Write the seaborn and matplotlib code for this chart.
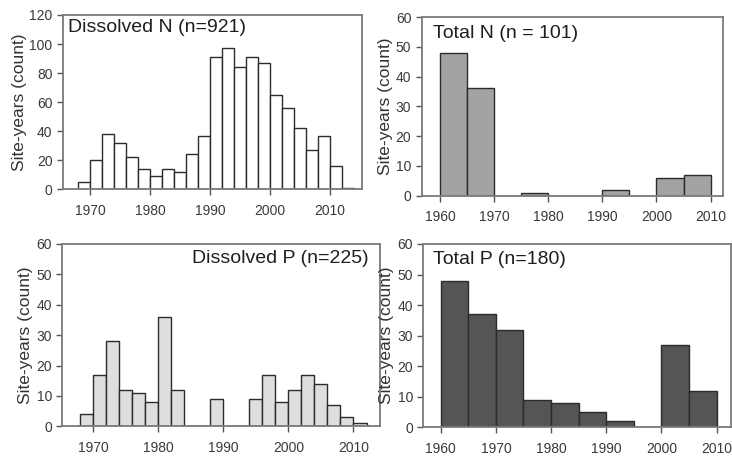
import matplotlib
matplotlib.use("Agg")
import matplotlib.pyplot as plt
import numpy as np
import pandas as pd
import seaborn as sns

# Site-year counts per time bin for each constituent
diss_n_start = 1968
diss_n_width = 2
diss_n_counts = [5, 20, 38, 32, 22, 14, 9, 14, 12, 24, 37, 91, 97, 84, 91, 87,
                 65, 56, 42, 27, 37, 16, 1]

total_n_start = 1960
total_n_width = 5
total_n_counts = [48, 36, 0, 1, 0, 0, 2, 0, 6, 7]

diss_p_start = 1968
diss_p_width = 2
diss_p_counts = [4, 17, 28, 12, 11, 8, 36, 12, 0, 0, 9, 0, 0, 9, 17, 8, 12, 17,
                 14, 7, 3, 1]

total_p_start = 1960
total_p_width = 5
total_p_counts = [48, 37, 32, 9, 8, 5, 2, 0, 27, 12]

titles = ["Dissolved N (n=921)", "Total N (n = 101)",
          "Dissolved P (n=225)", "Total P (n=180)"]
fills = ["#ffffff", "#a3a3a3", "#dedede", "#555555"]
ylabel = "Site-years (count)"

sns.set_theme(style="white")
plt.rcParams["font.family"] = ["Liberation Sans", "DejaVu Sans"]

fig = plt.figure(figsize=(7.32, 4.70), dpi=100)

# [left, bottom, width, height] for each panel
boxes = [
    [0.0861, 0.5972, 0.4084, 0.3709],
    [0.5761, 0.5836, 0.4116, 0.3802],
    [0.0851, 0.0930, 0.4343, 0.3879],
    [0.5783, 0.0909, 0.4200, 0.3900],
]
series = [
    (diss_n_start, diss_n_width, diss_n_counts),
    (total_n_start, total_n_width, total_n_counts),
    (diss_p_start, diss_p_width, diss_p_counts),
    (total_p_start, total_p_width, total_p_counts),
]
xlims = [(1965.5, 2015.3), (1956.6, 2012.3), (1965.3, 2014.1), (1956.85, 2012.55)]
ymax = [120, 60, 60, 60]
ystep = [20, 10, 10, 10]
xticks = [np.arange(1970, 2011, 10), np.arange(1960, 2011, 10),
          np.arange(1970, 2011, 10), np.arange(1960, 2011, 10)]
title_pos = [(0.017, 0.93, "left"), (0.038, 0.91, "left"),
             (0.964, 0.92, "right"), (0.033, 0.913, "left")]

for i in range(4):
    ax = fig.add_axes(boxes[i])
    start, width, counts = series[i]
    edges = [float(start + width * k) for k in range(len(counts) + 1)]
    mids = [e + width / 2 for e in edges[:-1]]
    df = pd.DataFrame({"year": mids, "n": [float(c) for c in counts]})
    sns.histplot(data=df, x="year", weights="n", bins=edges, ax=ax,
                 color=fills[i], alpha=1, edgecolor="#2b2b2b", linewidth=1.0)
    ax.set_xlim(*xlims[i])
    ax.set_ylim(0, ymax[i])
    ax.set_yticks(np.arange(0, ymax[i] + 1, ystep[i]))
    ax.set_xticks(xticks[i])
    ax.set_xlabel("")
    ax.set_ylabel(ylabel, fontsize=12.5, color="#333333", labelpad=2)
    ax.tick_params(axis="both", which="both", direction="out", length=4.5,
                   width=1.0, color="#555555", labelsize=10,
                   labelcolor="#3a3a3a")
    ax.tick_params(axis="x", pad=6)
    ax.tick_params(axis="y", pad=3)
    ax.xaxis.set_ticks_position("bottom")
    ax.yaxis.set_ticks_position("left")
    for s in ax.spines.values():
        s.set_visible(True)
        s.set_color("#7a7a7a")
        s.set_linewidth(1.3)
    tx, ty, ha = title_pos[i]
    ax.text(tx, ty, titles[i], transform=ax.transAxes, ha=ha, va="center",
            fontsize=14, color="#1e1e1e")

fig.savefig("out.png", dpi=100)
